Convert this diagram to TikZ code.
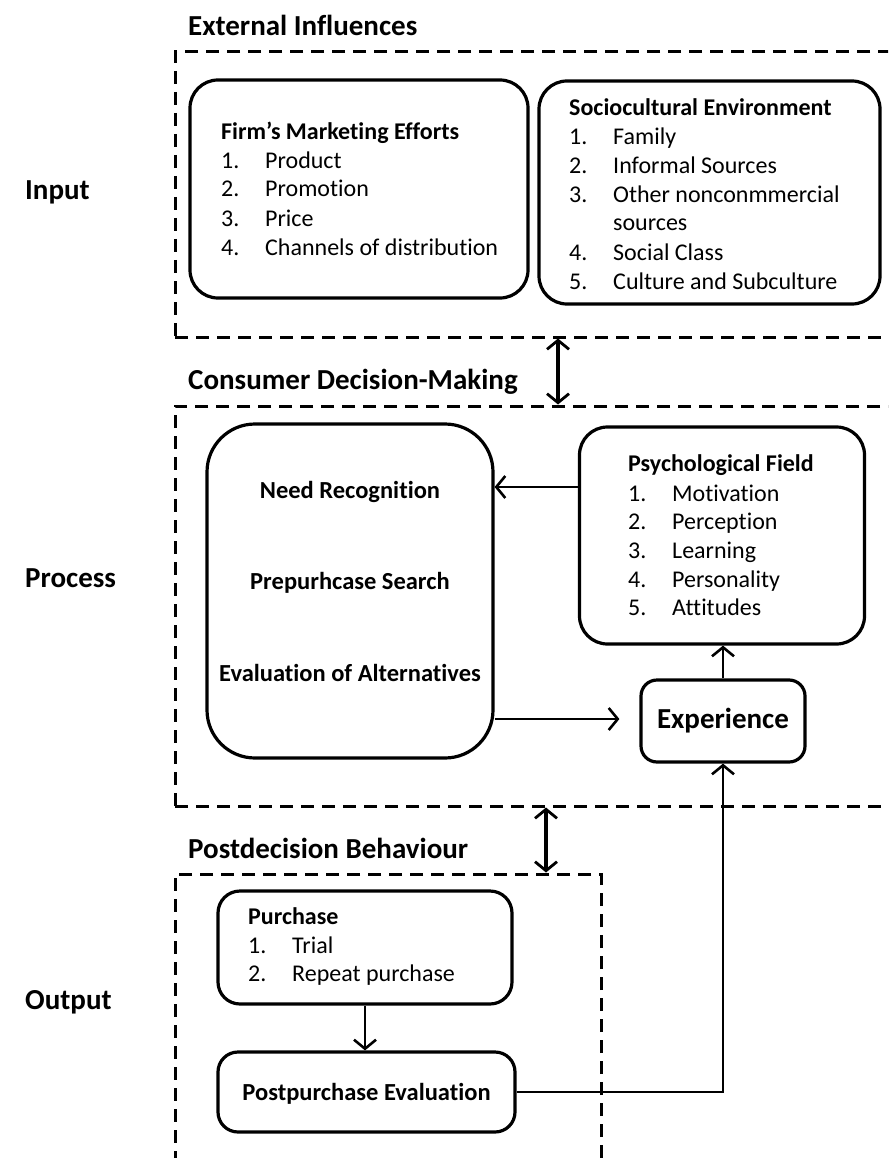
\documentclass[tikz,border=0pt]{standalone}
\usepackage{fontspec}
\setmainfont{Carlito}[Ligatures=NoCommon]
\usetikzlibrary{arrows.meta}
\begin{document}
\begin{tikzpicture}[x=1pt,y=-1pt,
  box/.style={draw, line width=3.2pt, rounded corners=28pt, inner sep=0pt},
  dbox/.style={draw, line width=3pt, dash pattern=on 13pt off 8pt, inner sep=0pt},
  txt/.style={anchor=base west, inner sep=0pt, font=\fontsize{24}{28}\selectfont},
  btxt/.style={anchor=base west, inner sep=0pt, font=\bfseries\fontsize{24}{28}\selectfont},
  ctxt/.style={inner sep=0pt, font=\bfseries\fontsize{24.5}{28}\selectfont},
  sec/.style={anchor=base west, inner sep=0pt, font=\bfseries\fontsize{29}{34}\selectfont},
  arr/.style={line width=2.6pt, -{Straight Barb[length=9pt,width=22pt,line width=2.6pt]}},
  darr/.style={line width=3.2pt, {Straight Barb[length=9pt,width=22pt,line width=2.8pt]}-{Straight Barb[length=9pt,width=22pt,line width=2.8pt]}}
]
\useasboundingbox (0,0) rectangle (888,1158);
\clip (0,0) rectangle (888,1158);

% side labels
\node[sec] (lin) at (25,200) {Input};
\node[sec] (lpr) at (25,587) {Process};
\node[sec] (lout) at (25,1009) {Output};

% section titles
\node[sec] (tei) at (188,36) {External Influences};
\node[sec] (tcd) at (188,389) {Consumer Decision-Making};
\node[sec] (tpb) at (188,858) {Postdecision Behaviour};

% dashed frames
\node[dbox, minimum width=730pt, minimum height=285pt] (ext) at (540,194.5) {};
\node[dbox, minimum width=730pt, minimum height=400pt] (cdm) at (540,606) {};
\node[dbox, minimum width=426pt, minimum height=320pt] (pdb) at (388,1034) {};

% input boxes
\node[box, minimum width=338pt, minimum height=218pt] (firm) at (359,189) {};
\node[btxt] (f0) at (221,140) {Firm’s Marketing Efforts};
\node[txt] (f1n) at (221,169) {1.}; \node[txt] (f1) at (265,169) {Product};
\node[txt] (f2n) at (221,197) {2.}; \node[txt] (f2) at (265,197) {Promotion};
\node[txt] (f3n) at (221,226) {3.}; \node[txt] (f3) at (265,226) {Price};
\node[txt] (f4n) at (221,255) {4.}; \node[txt] (f4) at (265,255) {Channels of distribution};

\node[box, minimum width=341pt, minimum height=223pt] (soc) at (709.5,192.5) {};
\node[btxt] (s0) at (569,116) {Sociocultural Environment};
\node[txt] (s1n) at (569,145) {1.}; \node[txt] (s1) at (613,145) {Family};
\node[txt] (s2n) at (569,174) {2.}; \node[txt] (s2) at (613,174) {Informal Sources};
\node[txt] (s3n) at (569,203) {3.}; \node[txt] (s3) at (613,203) {Other nonconmmercial};
\node[txt] (s3b) at (613,231) {sources};
\node[txt] (s4n) at (569,260) {4.}; \node[txt] (s4) at (613,260) {Social Class};
\node[txt] (s5n) at (569,289) {5.}; \node[txt] (s5) at (613,289) {Culture and Subculture};

% process boxes
\node[box, rounded corners=48pt, minimum width=286pt, minimum height=334pt] (big) at (350,591) {};
\node[ctxt] (b1) at (350,492) {Need Recognition};
\node[ctxt] (b2) at (350,583) {Prepurhcase Search};
\node[ctxt] (b3) at (350,673) {Evaluation of Alternatives};

\node[box, minimum width=285pt, minimum height=217pt] (psy) at (722,535.5) {};
\node[btxt] (p0) at (628,471) {Psychological Field};
\node[txt] (p1n) at (628,501) {1.}; \node[txt] (p1) at (672,501) {Motivation};
\node[txt] (p2n) at (628,529) {2.}; \node[txt] (p2) at (672,529) {Perception};
\node[txt] (p3n) at (628,558) {3.}; \node[txt] (p3) at (672,558) {Learning};
\node[txt] (p4n) at (628,587) {4.}; \node[txt] (p4) at (672,587) {Personality};
\node[txt] (p5n) at (628,615) {5.}; \node[txt] (p5) at (672,615) {Attitudes};

\node[box, rounded corners=16pt, minimum width=164pt, minimum height=82pt,
      font=\bfseries\fontsize{29}{34}\selectfont] (exp) at (723,721) {Experience};

% output boxes
\node[box, rounded corners=22pt, minimum width=294pt, minimum height=113pt] (pur) at (365,947.5) {};
\node[btxt] (u0) at (248,924) {Purchase};
\node[txt] (u1n) at (248,953) {1.}; \node[txt] (u1) at (292,953) {Trial};
\node[txt] (u2n) at (248,981) {2.}; \node[txt] (u2) at (292,981) {Repeat purchase};

\node[box, rounded corners=20pt, minimum width=297pt, minimum height=80pt] (post) at (366.5,1092) {};
\node[ctxt] (pt) at (366.5,1094) {Postpurchase Evaluation};

% connectors
\coordinate (a1) at (558,0);
\draw[darr] (ext.south -| a1) -- (cdm.north -| a1);
\coordinate (a2) at (546,0);
\draw[darr] (cdm.south -| a2) -- (pdb.north -| a2);

\coordinate (yp) at (0,487);
\draw[arr] (psy.west |- yp) -- (big.east |- yp);
\coordinate (ye) at (0,719);
\draw[arr, shorten >=20pt] (big.east |- ye) -- (exp.west |- ye);
\draw[arr] (exp.north) -- (psy.south -| exp.north);
\draw[arr] (pur.south) -- (pur.south |- post.north);
\draw[arr] (post.east) -| (exp.south);
\end{tikzpicture}
\end{document}
